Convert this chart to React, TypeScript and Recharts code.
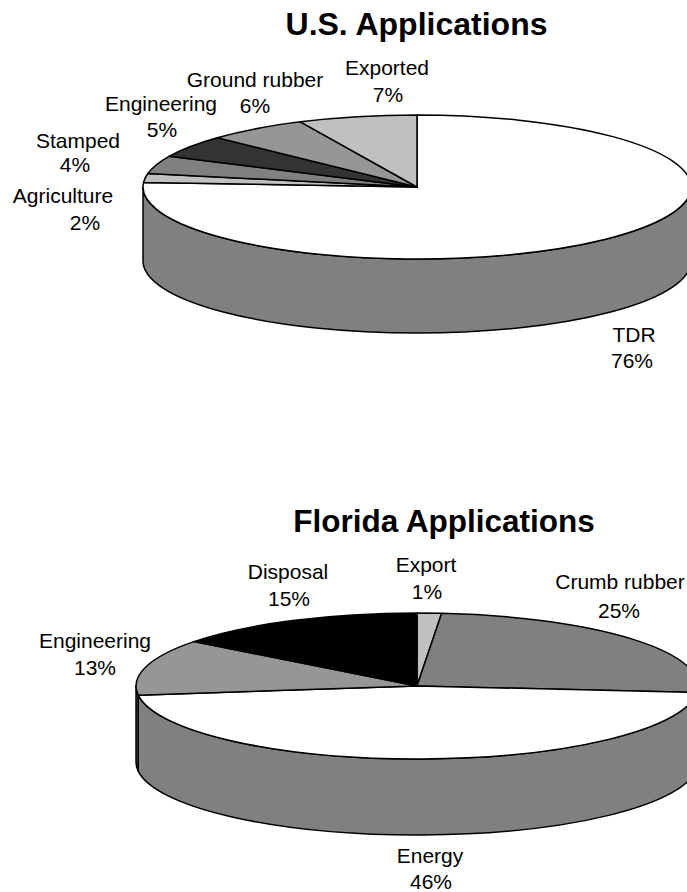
import { PieChart, Pie, Cell } from 'recharts'

const usNames = ['TDR', 'Agriculture', 'Stamped', 'Engineering', 'Ground rubber', 'Exported']
const usValues = [76, 2, 4, 5, 6, 7]
const usShown = ['76%', '2%', '4%', '5%', '6%', '7%']
const usFills = ['#ffffff', '#c0c0c0', '#808080', '#333333', '#969696', '#c0c0c0']

// export slice reads wider than its printed 1%, so values differ a bit from the labels
const flNames = ['Export', 'Crumb rubber', 'Energy', 'Engineering', 'Disposal']
const flValues = [1.4, 25, 46.6, 12.4, 14.6]
const flShown = ['1%', '25%', '46%', '13%', '15%']
const flFills = ['#c0c0c0', '#808080', '#ffffff', '#969696', '#000000']

// [name x, name baseline, percent x, percent baseline]
const usLabelPos = [
  [634, 342, 632, 368],
  [63, 203, 85, 230],
  [78, 148, 75, 172],
  [161, 111, 162, 137],
  [255, 87, 255, 113],
  [387, 75, 388, 102],
]
const flLabelPos = [
  [426, 572, 427, 599],
  [620, 589, 619, 618],
  [430, 863, 431, 889],
  [95, 648, 95, 675],
  [288, 579, 289, 606],
]

const FONT = '"Liberation Sans", Arial, sans-serif'
const RAD = Math.PI / 180

const toRows = (names: string[], values: number[]) =>
  names.map((name, i) => ({ name, value: values[i] }))

// wall colour is the slice colour at half brightness
function shade(hex: string) {
  const v = parseInt(hex.slice(1, 3), 16)
  const h = Math.round(v / 2).toString(16).padStart(2, '0')
  return `#${h}${h}${h}`
}

// Recharts only draws round sectors, so squash each one into an ellipse and add its wall
function tiltedSlice(ry: number, depth: number) {
  return function TiltedSlice(props: any) {
    const { cx, cy, outerRadius: rx, startAngle, endAngle, fill } = props
    const px = (a: number) => cx + rx * Math.cos(a * RAD)
    const py = (a: number) => cy - ry * Math.sin(a * RAD)
    const large = Math.abs(startAngle - endAngle) > 180 ? 1 : 0
    const top = `M${cx},${cy}L${px(startAngle)},${py(startAngle)}A${rx},${ry} 0 ${large} 1 ${px(endAngle)},${py(endAngle)}Z`

    // only the part between 3 and 9 o'clock faces the viewer
    const a1 = Math.min(startAngle, 0)
    const a2 = Math.max(endAngle, -180)
    const wall =
      a1 > a2
        ? `M${px(a1)},${py(a1)}A${rx},${ry} 0 0 1 ${px(a2)},${py(a2)}L${px(a2)},${py(a2) + depth}A${rx},${ry} 0 0 0 ${px(a1)},${py(a1) + depth}Z`
        : null

    return (
      <g>
        {wall && <path d={wall} fill={shade(fill)} stroke="#000" strokeWidth={1.5} strokeLinejoin="round" />}
        <path d={top} fill={fill} stroke="#000" strokeWidth={1.5} strokeLinejoin="round" />
      </g>
    )
  }
}

function twoLineLabel(names: string[], shown: string[], pos: number[][]) {
  return function TwoLineLabel({ index }: any) {
    const [x1, y1, x2, y2] = pos[index]
    return (
      <g fontFamily={FONT} fontSize={21} fill="#000" textAnchor="middle">
        <text x={x1} y={y1}>{names[index]}</text>
        <text x={x2} y={y2}>{shown[index]}</text>
      </g>
    )
  }
}

export default function App() {
  return (
    <div style={{ position: 'absolute', left: 0, top: 0, width: 687, height: 892, overflow: 'hidden', background: '#fff' }}>
      <PieChart width={687} height={892} margin={{ top: 0, right: 0, bottom: 0, left: 0 }}>
        <text x={416.5} y={35} textAnchor="middle" fontFamily={FONT} fontSize={32} fontWeight="bold">U.S. Applications</text>
        <text x={444} y={532} textAnchor="middle" fontFamily={FONT} fontSize={31.5} fontWeight="bold">Florida Applications</text>
        <Pie
          data={toRows(usNames, usValues)}
          dataKey="value"
          cx={417}
          cy={187}
          innerRadius={0}
          outerRadius={274}
          startAngle={90}
          endAngle={-270}
          paddingAngle={0}
          labelLine={false}
          label={twoLineLabel(usNames, usShown, usLabelPos)}
          shape={tiltedSlice(72, 74)}
          isAnimationActive={false}
        >
          {usFills.map((c, i) => <Cell key={i} fill={c} />)}
        </Pie>
        <Pie
          data={toRows(flNames, flValues)}
          dataKey="value"
          cx={417}
          cy={686}
          innerRadius={0}
          outerRadius={281}
          startAngle={90}
          endAngle={-270}
          paddingAngle={0}
          labelLine={false}
          label={twoLineLabel(flNames, flShown, flLabelPos)}
          shape={tiltedSlice(73, 76)}
          isAnimationActive={false}
        >
          {flFills.map((c, i) => <Cell key={i} fill={c} />)}
        </Pie>
      </PieChart>
    </div>
  )
}
